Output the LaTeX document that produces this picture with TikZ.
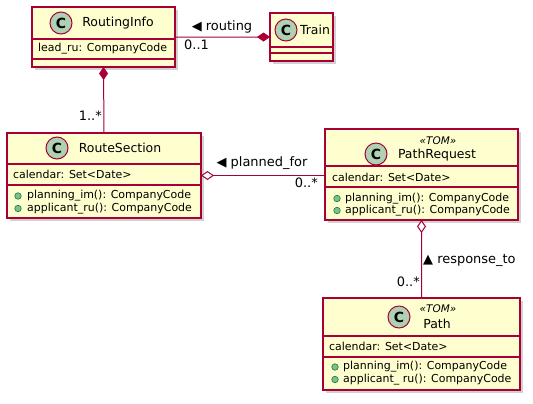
\documentclass[tikz,border=0pt]{standalone}
\usepackage{fontspec}
\setmainfont{DejaVu Sans}
\usetikzlibrary{arrows.meta,shadows}
\definecolor{umlred}{HTML}{A80036}
\definecolor{umlfill}{HTML}{FEFECE}
\definecolor{badge}{HTML}{ADD1B2}
\definecolor{bulletfill}{HTML}{84BE84}
\definecolor{bulletdraw}{HTML}{038048}
\begin{document}
\begin{tikzpicture}[x=1bp,y=-1bp,
  classbox/.style={draw=umlred, line width=1.5bp, fill=umlfill, anchor=north west,
    inner sep=0, outer sep=0,
    drop shadow={shadow xshift=3bp, shadow yshift=-3bp, fill=black!45, opacity=.4}},
  divider/.style={draw=umlred, line width=1.5bp},
  cbadge/.style={circle, minimum size=22bp, fill=badge, draw=umlred, line width=1bp, inner sep=0,
    font=\bfseries\fontsize{14}{14}\selectfont},
  nametext/.style={inner sep=0, font=\fontsize{12.5}{13}\selectfont},
  stereo/.style={inner sep=0, font=\itshape\fontsize{10.5}{11}\selectfont},
  attr/.style={inner sep=0, anchor=west, font=\fontsize{11}{12}\selectfont},
  bullet/.style={circle, minimum size=6.5bp, fill=bulletfill, draw=bulletdraw, line width=.6bp, inner sep=0},
  lbl/.style={inner sep=0, font=\fontsize{13}{13}\selectfont},
  conn/.style={draw=umlred, line width=1bp},
  comptip/.tip={Diamond[length=13bp,width=9bp,fill=umlred]},
  aggrtip/.tip={Diamond[length=13bp,width=9bp,fill=white]}
]
\useasboundingbox (0,0) rectangle (533,403);

% RoutingInfo
\node[classbox, minimum width=143bp, minimum height=60bp] (ri) at (32,7) {};
\draw[divider] (ri.west |- 0,39) -- (ri.east |- 0,39);
\draw[divider] (ri.west |- 0,59) -- (ri.east |- 0,59);
\node[cbadge] (ric) at (61,23) {C};
\node[nametext] (rin) at (118,23) {RoutingInfo};
\node[attr] (ria) at (38,49) {lead\_ru: CompanyCode};

% Train
\node[classbox, minimum width=63bp, minimum height=48bp] (tr) at (270,13) {};
\draw[divider] (tr.west |- 0,47) -- (tr.east |- 0,47);
\draw[divider] (tr.west |- 0,53) -- (tr.east |- 0,53);
\node[cbadge] (trc) at (286,30) {C};
\node[nametext] (trn) at (315,30) {Train};

% RouteSection
\node[classbox, minimum width=194bp, minimum height=85bp] (rs) at (7,133) {};
\draw[divider] (rs.west |- 0,164) -- (rs.east |- 0,164);
\draw[divider] (rs.west |- 0,185) -- (rs.east |- 0,185);
\node[cbadge] (rsc) at (57,148) {C};
\node[nametext] (rsn) at (120,148) {RouteSection};
\node[attr] (rsa) at (13,174.5) {calendar: Set<Date>};
\node[bullet] (rsb1) at (18,196) {};
\node[attr] (rsm1) at (27,196) {planning\_im(): CompanyCode};
\node[bullet] (rsb2) at (18,208.5) {};
\node[attr] (rsm2) at (27,208.5) {applicant\_ru(): CompanyCode};

% PathRequest
\node[classbox, minimum width=193bp, minimum height=91bp] (pr) at (325,129) {};
\draw[divider] (pr.west |- 0,166) -- (pr.east |- 0,166);
\draw[divider] (pr.west |- 0,187) -- (pr.east |- 0,187);
\node[cbadge] (prc) at (376,154) {C};
\node[stereo] (prs) at (438,141) {«TOM»};
\node[nametext] (prn) at (437,155) {PathRequest};
\node[attr] (pra) at (332,177.5) {calendar: Set<Date>};
\node[bullet] (prb1) at (337,198.5) {};
\node[attr] (prm1) at (345,198.5) {planning\_im(): CompanyCode};
\node[bullet] (prb2) at (337,210.5) {};
\node[attr] (prm2) at (345,210.5) {applicant\_ru(): CompanyCode};

% Path
\node[classbox, minimum width=197bp, minimum height=92bp] (pa) at (323,298) {};
\draw[divider] (pa.west |- 0,336) -- (pa.east |- 0,336);
\draw[divider] (pa.west |- 0,357) -- (pa.east |- 0,357);
\node[cbadge] (pac) at (399,317) {C};
\node[stereo] (pas) at (438,309) {«TOM»};
\node[nametext] (pan) at (437,324) {Path};
\node[attr] (paa) at (329,346.5) {calendar: Set<Date>};
\node[bullet] (pab1) at (335,367) {};
\node[attr] (pam1) at (343,367) {planning\_im(): CompanyCode};
\node[bullet] (pab2) at (335,379.5) {};
\node[attr] (pam2) at (343,379.5) {applicant\_ ru(): CompanyCode};

% connectors
\draw[conn, -comptip] (ri.east) -- (tr.west);
\draw[conn, comptip-] (ri.south) -- (rs.north);
\draw[conn, aggrtip-] (rs.east) -- (rs.east -| pr.west);
\draw[conn, aggrtip-] (pr.south) -- (pa.north);

% labels
\node[lbl] (l1) at (222,27) {◀ routing};
\node[lbl, anchor=west] (l1m) at (184,45) {0..1};
\node[lbl, anchor=east] (l2m) at (102,116) {1..*};
\node[lbl] (l3) at (262,163) {◀ planned\_for};
\node[lbl, anchor=east] (l3m) at (318,183) {0..*};
\node[lbl, anchor=west] (l4) at (423,260) {▲ response\_to};
\node[lbl, anchor=east] (l4m) at (420,282) {0..*};
\end{tikzpicture}
\end{document}
